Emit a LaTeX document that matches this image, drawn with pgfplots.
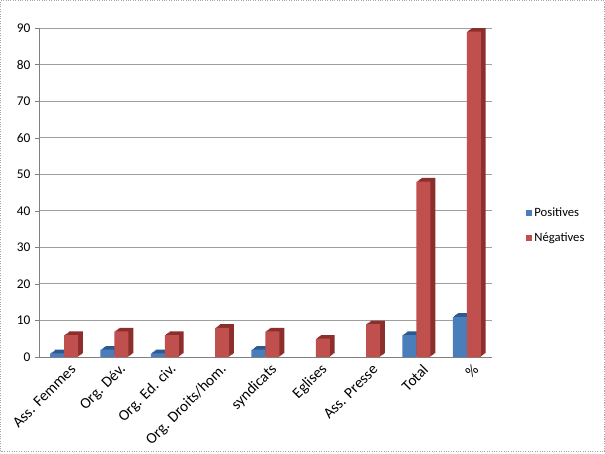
\documentclass[border=0pt]{standalone}
\usepackage{pgfplots}
\pgfplotsset{compat=1.18}
\usepackage{fontspec}
\setmainfont{Carlito}
\definecolor{bluefront}{HTML}{4A7EBB}
\definecolor{blueside}{HTML}{2C5A90}
\definecolor{redfront}{HTML}{C0504D}
\definecolor{redside}{HTML}{8C2E2B}
\pgfplotstableread{
x pos neg
0 1 6
1 2 7
2 1 6
3 0 8
4 2 7
5 0 5
6 0 9
7 6 48
8 11 89
}\datatable
\begin{document}
\begin{tikzpicture}
\draw[gray!70, line width=0.8pt, densely dotted] (0.4pt,0.4pt) rectangle (453.35pt,338.6pt);
\begin{axis}[
  at={(29.25pt,71.25pt)}, anchor=south west,
  scale only axis,
  width=339.75pt, height=246.75pt,
  xmin=-0.5, xmax=8.5,
  ymin=0, ymax=90,
  ytick={0,10,...,90},
  xtick={0,...,8},
  xticklabels={Ass. Femmes, Org. Dév., Org. Ed. civ., Org. Droits/hom., syndicats, Eglises, Ass. Presse, Total, \%},
  xticklabel style={rotate=45, anchor=east, yshift=-8pt, xshift=5pt, font=\fontsize{11.5}{13}\selectfont},
  yticklabel style={font=\fontsize{10}{12}\selectfont},
  /pgf/number format/assume math mode=true,
  axis x line*=bottom, axis y line*=left,
  axis line style={draw=gray, -},
  tick align=outside,
  xtick style={draw=none},
  ytick style={draw=gray},
  major tick length=3pt,
  minor x tick num=1,
  minor tick style={draw=gray},
  minor tick length=3pt,
  ymajorgrids,
  grid style={gray!75, line width=0.6pt},
  ybar, bar width=10.5pt,
  restrict y to domain=0.5:200,
  unbounded coords=discard,
  legend style={at={(1,0.40)}, anchor=west, xshift=22pt, draw=none, fill=none,
    font=\fontsize{9.5}{11}\selectfont, row sep=7pt},
  legend cell align=left,
  legend image code/.code={\fill[#1] (0pt,-2.3pt) rectangle (4.6pt,2.3pt);},
  shadowb/.style={fill=blueside, draw=none, bar shift=-5.25pt, forget plot},
  shadowr/.style={fill=redside, draw=none, bar shift=5.25pt, forget plot},
]
\addplot[shadowb, xshift=3.6pt, yshift=2.7pt] table[x=x, y=pos] {\datatable};
\addplot[shadowb, xshift=2.7pt, yshift=2.0pt] table[x=x, y=pos] {\datatable};
\addplot[shadowb, xshift=1.8pt, yshift=1.35pt] table[x=x, y=pos] {\datatable};
\addplot[shadowb, xshift=0.9pt, yshift=0.7pt] table[x=x, y=pos] {\datatable};
\addplot[fill=bluefront, draw=none, bar shift=-5.25pt] table[x=x, y=pos] {\datatable};
\addplot[shadowr, xshift=3.6pt, yshift=2.7pt] table[x=x, y=neg] {\datatable};
\addplot[shadowr, xshift=2.7pt, yshift=2.0pt] table[x=x, y=neg] {\datatable};
\addplot[shadowr, xshift=1.8pt, yshift=1.35pt] table[x=x, y=neg] {\datatable};
\addplot[shadowr, xshift=0.9pt, yshift=0.7pt] table[x=x, y=neg] {\datatable};
\addplot[fill=redfront, draw=none, bar shift=5.25pt] table[x=x, y=neg] {\datatable};
\legend{Positives, Négatives}
\end{axis}
\end{tikzpicture}
\end{document}
